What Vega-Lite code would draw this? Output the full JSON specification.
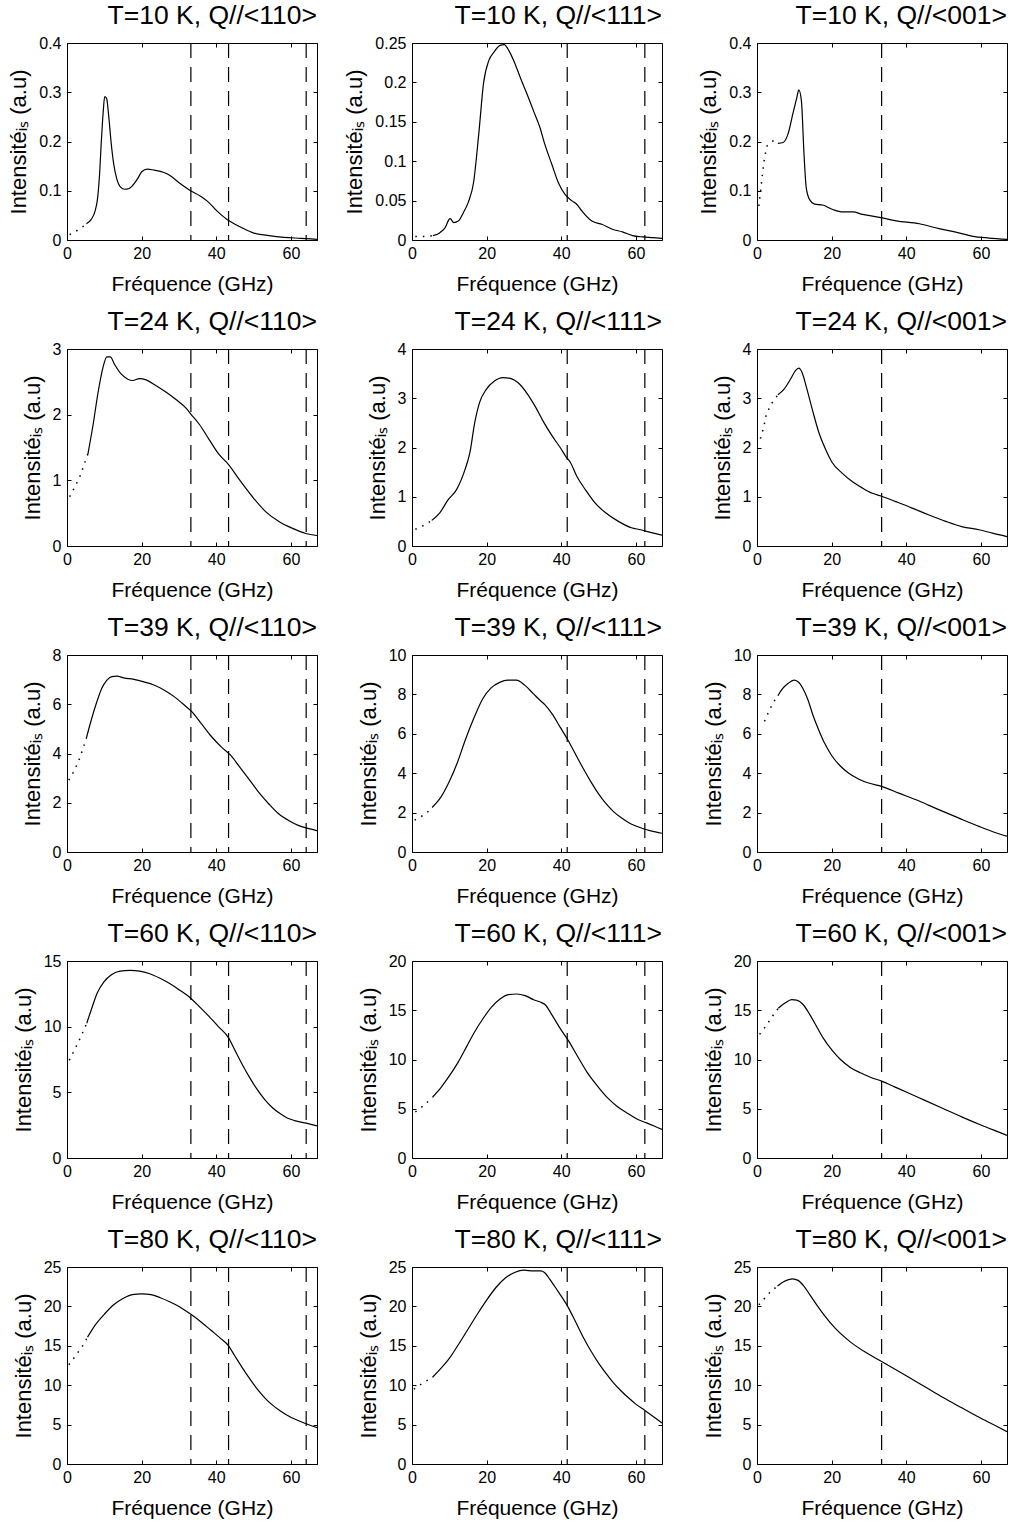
{
"$schema": "https://vega.github.io/schema/vega-lite/v6.json",
"background": "white",
"padding": {"left": 7, "top": 2, "right": 0, "bottom": 0},
"data": {"values": [
{"panel":"T10-110","part":"dot","freq":0.7,"intensity":0.011},{"panel":"T10-110","part":"dot","freq":3.6,"intensity":0.023},{"panel":"T10-110","part":"dot","freq":5.2,"intensity":0.033},
{"panel":"T10-110","part":"solid","freq":5.2,"intensity":0.033},{"panel":"T10-110","part":"solid","freq":6.5,"intensity":0.042},{"panel":"T10-110","part":"solid","freq":7.5,"intensity":0.058},{"panel":"T10-110","part":"solid","freq":8.2,"intensity":0.085},{"panel":"T10-110","part":"solid","freq":8.7,"intensity":0.13},{"panel":"T10-110","part":"solid","freq":9.2,"intensity":0.2},{"panel":"T10-110","part":"solid","freq":9.7,"intensity":0.26},{"panel":"T10-110","part":"solid","freq":10.1,"intensity":0.291},{"panel":"T10-110","part":"solid","freq":10.6,"intensity":0.288},{"panel":"T10-110","part":"solid","freq":11.2,"intensity":0.25},{"panel":"T10-110","part":"solid","freq":11.8,"intensity":0.2},{"panel":"T10-110","part":"solid","freq":12.5,"intensity":0.155},{"panel":"T10-110","part":"solid","freq":13.3,"intensity":0.125},{"panel":"T10-110","part":"solid","freq":14.3,"intensity":0.108},{"panel":"T10-110","part":"solid","freq":15.5,"intensity":0.103},{"panel":"T10-110","part":"solid","freq":16.5,"intensity":0.104},{"panel":"T10-110","part":"solid","freq":17.5,"intensity":0.11},{"panel":"T10-110","part":"solid","freq":18.8,"intensity":0.123},{"panel":"T10-110","part":"solid","freq":20.1,"intensity":0.139},{"panel":"T10-110","part":"solid","freq":21.5,"intensity":0.144},{"panel":"T10-110","part":"solid","freq":23.3,"intensity":0.142},{"panel":"T10-110","part":"solid","freq":26.0,"intensity":0.137},{"panel":"T10-110","part":"solid","freq":27.8,"intensity":0.13},{"panel":"T10-110","part":"solid","freq":30.4,"intensity":0.114},{"panel":"T10-110","part":"solid","freq":33.1,"intensity":0.1},{"panel":"T10-110","part":"solid","freq":35.8,"intensity":0.089},{"panel":"T10-110","part":"solid","freq":37.6,"intensity":0.079},{"panel":"T10-110","part":"solid","freq":40.3,"intensity":0.058},{"panel":"T10-110","part":"solid","freq":43.0,"intensity":0.041},{"panel":"T10-110","part":"solid","freq":46.6,"intensity":0.026},{"panel":"T10-110","part":"solid","freq":50.1,"intensity":0.014},{"panel":"T10-110","part":"solid","freq":53.7,"intensity":0.0095},{"panel":"T10-110","part":"solid","freq":58.2,"intensity":0.0054},{"panel":"T10-110","part":"solid","freq":62.7,"intensity":0.0034},{"panel":"T10-110","part":"solid","freq":67,"intensity":0.0014},
{"panel":"T10-110","part":"mode","freq":33.2},{"panel":"T10-110","part":"mode","freq":43.3},{"panel":"T10-110","part":"mode","freq":64.1},

{"panel":"T10-111","part":"dot","freq":0.9,"intensity":0.0043},{"panel":"T10-111","part":"dot","freq":4.3,"intensity":0.0047},{"panel":"T10-111","part":"dot","freq":5.6,"intensity":0.0056},
{"panel":"T10-111","part":"solid","freq":5.6,"intensity":0.0056},{"panel":"T10-111","part":"solid","freq":7.4,"intensity":0.009},{"panel":"T10-111","part":"solid","freq":8.8,"intensity":0.015},{"panel":"T10-111","part":"solid","freq":10.2,"intensity":0.027},{"panel":"T10-111","part":"solid","freq":11.2,"intensity":0.022},{"panel":"T10-111","part":"solid","freq":12.4,"intensity":0.024},{"panel":"T10-111","part":"solid","freq":13.8,"intensity":0.035},{"panel":"T10-111","part":"solid","freq":15.1,"intensity":0.048},{"panel":"T10-111","part":"solid","freq":16.5,"intensity":0.073},{"panel":"T10-111","part":"solid","freq":17.9,"intensity":0.135},{"panel":"T10-111","part":"solid","freq":19.2,"intensity":0.2},{"panel":"T10-111","part":"solid","freq":20.6,"intensity":0.228},{"panel":"T10-111","part":"solid","freq":21.9,"intensity":0.238},{"panel":"T10-111","part":"solid","freq":23.6,"intensity":0.247},{"panel":"T10-111","part":"solid","freq":24.7,"intensity":0.248},{"panel":"T10-111","part":"solid","freq":26.0,"intensity":0.24},{"panel":"T10-111","part":"solid","freq":27.4,"intensity":0.226},{"panel":"T10-111","part":"solid","freq":29.2,"intensity":0.204},{"panel":"T10-111","part":"solid","freq":31.0,"intensity":0.183},{"panel":"T10-111","part":"solid","freq":32.8,"intensity":0.161},{"panel":"T10-111","part":"solid","freq":34.2,"intensity":0.144},{"panel":"T10-111","part":"solid","freq":35.5,"intensity":0.123},{"panel":"T10-111","part":"solid","freq":37.4,"intensity":0.097},{"panel":"T10-111","part":"solid","freq":39.2,"intensity":0.073},{"panel":"T10-111","part":"solid","freq":41.0,"intensity":0.058},{"panel":"T10-111","part":"solid","freq":42.8,"intensity":0.05},{"panel":"T10-111","part":"solid","freq":44.2,"intensity":0.045},{"panel":"T10-111","part":"solid","freq":45.5,"intensity":0.037},{"panel":"T10-111","part":"solid","freq":48.2,"intensity":0.024},{"panel":"T10-111","part":"solid","freq":51.0,"intensity":0.0197},{"panel":"T10-111","part":"solid","freq":53.7,"intensity":0.0137},{"panel":"T10-111","part":"solid","freq":56.4,"intensity":0.0103},{"panel":"T10-111","part":"solid","freq":59.1,"intensity":0.0056},{"panel":"T10-111","part":"solid","freq":61.8,"intensity":0.0039},{"panel":"T10-111","part":"solid","freq":64.6,"intensity":0.003},{"panel":"T10-111","part":"solid","freq":67,"intensity":0.002},
{"panel":"T10-111","part":"mode","freq":41.6},{"panel":"T10-111","part":"mode","freq":62.4},

{"panel":"T10-001","part":"dot","freq":0.5,"intensity":0.069},{"panel":"T10-001","part":"dot","freq":1.2,"intensity":0.116},{"panel":"T10-001","part":"dot","freq":2.0,"intensity":0.167},{"panel":"T10-001","part":"dot","freq":2.7,"intensity":0.191},{"panel":"T10-001","part":"dot","freq":4.3,"intensity":0.201},{"panel":"T10-001","part":"dot","freq":5.6,"intensity":0.196},
{"panel":"T10-001","part":"solid","freq":5.6,"intensity":0.196},{"panel":"T10-001","part":"solid","freq":7.0,"intensity":0.198},{"panel":"T10-001","part":"solid","freq":8.3,"intensity":0.215},{"panel":"T10-001","part":"solid","freq":9.6,"intensity":0.256},{"panel":"T10-001","part":"solid","freq":10.7,"intensity":0.29},{"panel":"T10-001","part":"solid","freq":11.2,"intensity":0.305},{"panel":"T10-001","part":"solid","freq":11.9,"intensity":0.283},{"panel":"T10-001","part":"solid","freq":12.6,"intensity":0.174},{"panel":"T10-001","part":"solid","freq":13.2,"intensity":0.106},{"panel":"T10-001","part":"solid","freq":14.1,"intensity":0.082},{"panel":"T10-001","part":"solid","freq":15.4,"intensity":0.073},{"panel":"T10-001","part":"solid","freq":17.6,"intensity":0.071},{"panel":"T10-001","part":"solid","freq":20.3,"intensity":0.062},{"panel":"T10-001","part":"solid","freq":23.0,"intensity":0.057},{"panel":"T10-001","part":"solid","freq":25.7,"intensity":0.057},{"panel":"T10-001","part":"solid","freq":28.3,"intensity":0.052},{"panel":"T10-001","part":"solid","freq":32.8,"intensity":0.046},{"panel":"T10-001","part":"solid","freq":37.3,"intensity":0.039},{"panel":"T10-001","part":"solid","freq":43.5,"intensity":0.033},{"panel":"T10-001","part":"solid","freq":48.8,"intensity":0.023},{"panel":"T10-001","part":"solid","freq":53.3,"intensity":0.016},{"panel":"T10-001","part":"solid","freq":57.8,"intensity":0.0075},{"panel":"T10-001","part":"solid","freq":62.2,"intensity":0.004},{"panel":"T10-001","part":"solid","freq":67,"intensity":0.0014},
{"panel":"T10-001","part":"mode","freq":33.4},

{"panel":"T24-110","part":"dot","freq":0.7,"intensity":0.75},{"panel":"T24-110","part":"dot","freq":2.3,"intensity":0.92},{"panel":"T24-110","part":"dot","freq":3.6,"intensity":1.08},{"panel":"T24-110","part":"dot","freq":4.7,"intensity":1.26},{"panel":"T24-110","part":"dot","freq":5.6,"intensity":1.4},
{"panel":"T24-110","part":"solid","freq":5.6,"intensity":1.4},{"panel":"T24-110","part":"solid","freq":7.0,"intensity":1.85},{"panel":"T24-110","part":"solid","freq":8.3,"intensity":2.33},{"panel":"T24-110","part":"solid","freq":9.6,"intensity":2.71},{"panel":"T24-110","part":"solid","freq":10.7,"intensity":2.88},{"panel":"T24-110","part":"solid","freq":11.6,"intensity":2.88},{"panel":"T24-110","part":"solid","freq":12.8,"intensity":2.76},{"panel":"T24-110","part":"solid","freq":14.5,"intensity":2.62},{"panel":"T24-110","part":"solid","freq":16.3,"intensity":2.54},{"panel":"T24-110","part":"solid","freq":17.6,"intensity":2.52},{"panel":"T24-110","part":"solid","freq":19.4,"intensity":2.55},{"panel":"T24-110","part":"solid","freq":21.2,"intensity":2.53},{"panel":"T24-110","part":"solid","freq":23.9,"intensity":2.44},{"panel":"T24-110","part":"solid","freq":26.6,"intensity":2.34},{"panel":"T24-110","part":"solid","freq":29.2,"intensity":2.23},{"panel":"T24-110","part":"solid","freq":31.9,"intensity":2.1},{"panel":"T24-110","part":"solid","freq":33.2,"intensity":2.01},{"panel":"T24-110","part":"solid","freq":35.5,"intensity":1.85},{"panel":"T24-110","part":"solid","freq":38.1,"intensity":1.62},{"panel":"T24-110","part":"solid","freq":40.8,"intensity":1.39},{"panel":"T24-110","part":"solid","freq":43.3,"intensity":1.24},{"panel":"T24-110","part":"solid","freq":46.2,"intensity":1.01},{"panel":"T24-110","part":"solid","freq":49.7,"intensity":0.75},{"panel":"T24-110","part":"solid","freq":53.3,"intensity":0.52},{"panel":"T24-110","part":"solid","freq":56.9,"intensity":0.37},{"panel":"T24-110","part":"solid","freq":60.4,"intensity":0.27},{"panel":"T24-110","part":"solid","freq":64.0,"intensity":0.19},{"panel":"T24-110","part":"solid","freq":67,"intensity":0.16},
{"panel":"T24-110","part":"mode","freq":33.2},{"panel":"T24-110","part":"mode","freq":43.3},{"panel":"T24-110","part":"mode","freq":64.1},

{"panel":"T24-111","part":"dot","freq":0.9,"intensity":0.34},{"panel":"T24-111","part":"dot","freq":3.5,"intensity":0.43},{"panel":"T24-111","part":"dot","freq":5.3,"intensity":0.52},
{"panel":"T24-111","part":"solid","freq":5.3,"intensity":0.52},{"panel":"T24-111","part":"solid","freq":7.5,"intensity":0.68},{"panel":"T24-111","part":"solid","freq":9.7,"intensity":0.94},{"panel":"T24-111","part":"solid","freq":11.9,"intensity":1.14},{"panel":"T24-111","part":"solid","freq":14.2,"intensity":1.55},{"panel":"T24-111","part":"solid","freq":15.5,"intensity":1.89},{"panel":"T24-111","part":"solid","freq":16.8,"intensity":2.5},{"panel":"T24-111","part":"solid","freq":18.1,"intensity":2.91},{"panel":"T24-111","part":"solid","freq":19.9,"intensity":3.18},{"panel":"T24-111","part":"solid","freq":22.1,"intensity":3.35},{"panel":"T24-111","part":"solid","freq":24.3,"intensity":3.42},{"panel":"T24-111","part":"solid","freq":26.5,"intensity":3.4},{"panel":"T24-111","part":"solid","freq":28.8,"intensity":3.29},{"panel":"T24-111","part":"solid","freq":31.0,"intensity":3.08},{"panel":"T24-111","part":"solid","freq":33.2,"intensity":2.81},{"panel":"T24-111","part":"solid","freq":35.4,"intensity":2.5},{"panel":"T24-111","part":"solid","freq":37.6,"intensity":2.23},{"panel":"T24-111","part":"solid","freq":39.8,"intensity":1.99},{"panel":"T24-111","part":"solid","freq":41.2,"intensity":1.82},{"panel":"T24-111","part":"solid","freq":42.5,"intensity":1.69},{"panel":"T24-111","part":"solid","freq":44.2,"intensity":1.41},{"panel":"T24-111","part":"solid","freq":46.5,"intensity":1.14},{"panel":"T24-111","part":"solid","freq":49.1,"intensity":0.87},{"panel":"T24-111","part":"solid","freq":51.8,"intensity":0.68},{"panel":"T24-111","part":"solid","freq":55.3,"intensity":0.5},{"panel":"T24-111","part":"solid","freq":58.8,"intensity":0.37},{"panel":"T24-111","part":"solid","freq":61.3,"intensity":0.33},{"panel":"T24-111","part":"solid","freq":64.2,"intensity":0.27},{"panel":"T24-111","part":"solid","freq":67,"intensity":0.22},
{"panel":"T24-111","part":"mode","freq":41.6},{"panel":"T24-111","part":"mode","freq":62.4},

{"panel":"T24-001","part":"dot","freq":0.9,"intensity":2.18},{"panel":"T24-001","part":"dot","freq":1.8,"intensity":2.41},{"panel":"T24-001","part":"dot","freq":2.4,"intensity":2.64},{"panel":"T24-001","part":"dot","freq":3.6,"intensity":2.86},{"panel":"T24-001","part":"dot","freq":5.6,"intensity":3.07},
{"panel":"T24-001","part":"solid","freq":5.6,"intensity":3.07},{"panel":"T24-001","part":"solid","freq":7.2,"intensity":3.18},{"panel":"T24-001","part":"solid","freq":9.0,"intensity":3.39},{"panel":"T24-001","part":"solid","freq":10.3,"intensity":3.56},{"panel":"T24-001","part":"solid","freq":11.2,"intensity":3.61},{"panel":"T24-001","part":"solid","freq":12.1,"intensity":3.52},{"panel":"T24-001","part":"solid","freq":13.4,"intensity":3.18},{"panel":"T24-001","part":"solid","freq":14.8,"intensity":2.78},{"panel":"T24-001","part":"solid","freq":16.6,"intensity":2.3},{"panel":"T24-001","part":"solid","freq":18.4,"intensity":1.96},{"panel":"T24-001","part":"solid","freq":20.1,"intensity":1.7},{"panel":"T24-001","part":"solid","freq":22.8,"intensity":1.48},{"panel":"T24-001","part":"solid","freq":25.5,"intensity":1.31},{"panel":"T24-001","part":"solid","freq":28.2,"intensity":1.18},{"panel":"T24-001","part":"solid","freq":30.9,"intensity":1.07},{"panel":"T24-001","part":"solid","freq":33.4,"intensity":1.01},{"panel":"T24-001","part":"solid","freq":37.2,"intensity":0.9},{"panel":"T24-001","part":"solid","freq":41.6,"intensity":0.77},{"panel":"T24-001","part":"solid","freq":46.1,"intensity":0.63},{"panel":"T24-001","part":"solid","freq":50.6,"intensity":0.5},{"panel":"T24-001","part":"solid","freq":55.1,"intensity":0.39},{"panel":"T24-001","part":"solid","freq":59.5,"intensity":0.33},{"panel":"T24-001","part":"solid","freq":63.1,"intensity":0.26},{"panel":"T24-001","part":"solid","freq":67,"intensity":0.19},
{"panel":"T24-001","part":"mode","freq":33.4},

{"panel":"T39-110","part":"dot","freq":0.5,"intensity":2.92},{"panel":"T39-110","part":"dot","freq":2.1,"intensity":3.35},{"panel":"T39-110","part":"dot","freq":3.4,"intensity":3.81},{"panel":"T39-110","part":"dot","freq":4.5,"intensity":4.3},{"panel":"T39-110","part":"dot","freq":5.2,"intensity":4.63},
{"panel":"T39-110","part":"solid","freq":5.2,"intensity":4.63},{"panel":"T39-110","part":"solid","freq":6.6,"intensity":5.41},{"panel":"T39-110","part":"solid","freq":8.0,"intensity":6.1},{"panel":"T39-110","part":"solid","freq":9.3,"intensity":6.64},{"panel":"T39-110","part":"solid","freq":10.7,"intensity":6.98},{"panel":"T39-110","part":"solid","freq":12.0,"intensity":7.12},{"panel":"T39-110","part":"solid","freq":13.4,"intensity":7.14},{"panel":"T39-110","part":"solid","freq":15.2,"intensity":7.07},{"panel":"T39-110","part":"solid","freq":17.9,"intensity":7.01},{"panel":"T39-110","part":"solid","freq":20.6,"intensity":6.91},{"panel":"T39-110","part":"solid","freq":23.3,"intensity":6.78},{"panel":"T39-110","part":"solid","freq":26.1,"intensity":6.57},{"panel":"T39-110","part":"solid","freq":28.8,"intensity":6.3},{"panel":"T39-110","part":"solid","freq":31.5,"intensity":5.96},{"panel":"T39-110","part":"solid","freq":33.5,"intensity":5.69},{"panel":"T39-110","part":"solid","freq":36.0,"intensity":5.21},{"panel":"T39-110","part":"solid","freq":38.7,"intensity":4.69},{"panel":"T39-110","part":"solid","freq":41.4,"intensity":4.26},{"panel":"T39-110","part":"solid","freq":43.9,"intensity":3.92},{"panel":"T39-110","part":"solid","freq":46.0,"intensity":3.51},{"panel":"T39-110","part":"solid","freq":48.7,"intensity":2.97},{"panel":"T39-110","part":"solid","freq":51.4,"intensity":2.42},{"panel":"T39-110","part":"solid","freq":54.1,"intensity":1.95},{"panel":"T39-110","part":"solid","freq":56.8,"intensity":1.54},{"panel":"T39-110","part":"solid","freq":59.5,"intensity":1.27},{"panel":"T39-110","part":"solid","freq":62.3,"intensity":1.06},{"panel":"T39-110","part":"solid","freq":64.8,"intensity":0.95},{"panel":"T39-110","part":"solid","freq":67,"intensity":0.87},
{"panel":"T39-110","part":"mode","freq":33.2},{"panel":"T39-110","part":"mode","freq":43.3},{"panel":"T39-110","part":"mode","freq":64.1},

{"panel":"T39-111","part":"dot","freq":0.7,"intensity":1.62},{"panel":"T39-111","part":"dot","freq":3.6,"intensity":1.92},{"panel":"T39-111","part":"dot","freq":5.4,"intensity":2.26},
{"panel":"T39-111","part":"solid","freq":5.4,"intensity":2.26},{"panel":"T39-111","part":"solid","freq":7.7,"intensity":2.77},{"panel":"T39-111","part":"solid","freq":9.9,"intensity":3.54},{"panel":"T39-111","part":"solid","freq":12.2,"intensity":4.56},{"panel":"T39-111","part":"solid","freq":14.4,"intensity":5.75},{"panel":"T39-111","part":"solid","freq":16.7,"intensity":6.85},{"panel":"T39-111","part":"solid","freq":19.0,"intensity":7.79},{"panel":"T39-111","part":"solid","freq":21.2,"intensity":8.33},{"panel":"T39-111","part":"solid","freq":23.5,"intensity":8.61},{"panel":"T39-111","part":"solid","freq":25.7,"intensity":8.72},{"panel":"T39-111","part":"solid","freq":28.0,"intensity":8.72},{"panel":"T39-111","part":"solid","freq":30.2,"intensity":8.47},{"panel":"T39-111","part":"solid","freq":32.5,"intensity":8.04},{"panel":"T39-111","part":"solid","freq":34.3,"intensity":7.7},{"panel":"T39-111","part":"solid","freq":35.6,"intensity":7.48},{"panel":"T39-111","part":"solid","freq":37.5,"intensity":7.02},{"panel":"T39-111","part":"solid","freq":39.7,"intensity":6.34},{"panel":"T39-111","part":"solid","freq":41.7,"intensity":5.71},{"panel":"T39-111","part":"solid","freq":44,"intensity":4.9},{"panel":"T39-111","part":"solid","freq":46,"intensity":4.2},{"panel":"T39-111","part":"solid","freq":48,"intensity":3.55},{"panel":"T39-111","part":"solid","freq":50,"intensity":2.95},{"panel":"T39-111","part":"solid","freq":52,"intensity":2.45},{"panel":"T39-111","part":"solid","freq":54,"intensity":2.05},{"panel":"T39-111","part":"solid","freq":56,"intensity":1.75},{"panel":"T39-111","part":"solid","freq":58,"intensity":1.5},{"panel":"T39-111","part":"solid","freq":60,"intensity":1.32},{"panel":"T39-111","part":"solid","freq":62,"intensity":1.18},{"panel":"T39-111","part":"solid","freq":64,"intensity":1.07},{"panel":"T39-111","part":"solid","freq":67,"intensity":0.95},
{"panel":"T39-111","part":"mode","freq":41.6},{"panel":"T39-111","part":"mode","freq":62.4},

{"panel":"T39-001","part":"dot","freq":2.0,"intensity":6.63},{"panel":"T39-001","part":"dot","freq":3.3,"intensity":7.19},{"panel":"T39-001","part":"dot","freq":4.9,"intensity":7.76},{"panel":"T39-001","part":"dot","freq":5.6,"intensity":7.93},
{"panel":"T39-001","part":"solid","freq":5.6,"intensity":7.93},{"panel":"T39-001","part":"solid","freq":6.9,"intensity":8.3},{"panel":"T39-001","part":"solid","freq":8.3,"intensity":8.55},{"panel":"T39-001","part":"solid","freq":9.9,"intensity":8.72},{"panel":"T39-001","part":"solid","freq":11.0,"intensity":8.64},{"panel":"T39-001","part":"solid","freq":12.3,"intensity":8.3},{"panel":"T39-001","part":"solid","freq":13.7,"intensity":7.7},{"panel":"T39-001","part":"solid","freq":15.0,"intensity":6.94},{"panel":"T39-001","part":"solid","freq":16.4,"intensity":6.26},{"panel":"T39-001","part":"solid","freq":18.2,"intensity":5.49},{"panel":"T39-001","part":"solid","freq":20.0,"intensity":4.9},{"panel":"T39-001","part":"solid","freq":22.2,"intensity":4.39},{"panel":"T39-001","part":"solid","freq":24.5,"intensity":4.01},{"panel":"T39-001","part":"solid","freq":27.2,"intensity":3.71},{"panel":"T39-001","part":"solid","freq":29.9,"intensity":3.5},{"panel":"T39-001","part":"solid","freq":33.4,"intensity":3.33},{"panel":"T39-001","part":"solid","freq":38.0,"intensity":2.99},{"panel":"T39-001","part":"solid","freq":43.3,"intensity":2.6},{"panel":"T39-001","part":"solid","freq":48.7,"intensity":2.15},{"panel":"T39-001","part":"solid","freq":54.1,"intensity":1.72},{"panel":"T39-001","part":"solid","freq":59.5,"intensity":1.3},{"panel":"T39-001","part":"solid","freq":64.0,"intensity":0.98},{"panel":"T39-001","part":"solid","freq":67,"intensity":0.8},
{"panel":"T39-001","part":"mode","freq":33.4},

{"panel":"T60-110","part":"dot","freq":0.6,"intensity":7.44},{"panel":"T60-110","part":"dot","freq":2.1,"intensity":8.28},{"panel":"T60-110","part":"dot","freq":3.5,"intensity":9.1},{"panel":"T60-110","part":"dot","freq":5.3,"intensity":10.26},
{"panel":"T60-110","part":"solid","freq":5.3,"intensity":10.26},{"panel":"T60-110","part":"solid","freq":6.8,"intensity":11.54},{"panel":"T60-110","part":"solid","freq":8.1,"intensity":12.56},{"panel":"T60-110","part":"solid","freq":9.9,"intensity":13.41},{"panel":"T60-110","part":"solid","freq":12.0,"intensity":13.97},{"panel":"T60-110","part":"solid","freq":14.2,"intensity":14.23},{"panel":"T60-110","part":"solid","freq":16.9,"intensity":14.28},{"panel":"T60-110","part":"solid","freq":19.5,"intensity":14.23},{"panel":"T60-110","part":"solid","freq":22.2,"intensity":14.03},{"panel":"T60-110","part":"solid","freq":24.8,"intensity":13.7},{"panel":"T60-110","part":"solid","freq":27.4,"intensity":13.3},{"panel":"T60-110","part":"solid","freq":30.1,"intensity":12.8},{"panel":"T60-110","part":"solid","freq":33.2,"intensity":12.15},{"panel":"T60-110","part":"solid","freq":35.4,"intensity":11.55},{"panel":"T60-110","part":"solid","freq":38.0,"intensity":10.8},{"panel":"T60-110","part":"solid","freq":40.6,"intensity":10.0},{"panel":"T60-110","part":"solid","freq":43.3,"intensity":9.15},{"panel":"T60-110","part":"solid","freq":45,"intensity":8.2},{"panel":"T60-110","part":"solid","freq":47,"intensity":7.1},{"panel":"T60-110","part":"solid","freq":49,"intensity":6.1},{"panel":"T60-110","part":"solid","freq":51,"intensity":5.2},{"panel":"T60-110","part":"solid","freq":53,"intensity":4.45},{"panel":"T60-110","part":"solid","freq":55,"intensity":3.85},{"panel":"T60-110","part":"solid","freq":57,"intensity":3.4},{"panel":"T60-110","part":"solid","freq":59,"intensity":3.05},{"panel":"T60-110","part":"solid","freq":61,"intensity":2.85},{"panel":"T60-110","part":"solid","freq":64.1,"intensity":2.65},{"panel":"T60-110","part":"solid","freq":67,"intensity":2.45},
{"panel":"T60-110","part":"mode","freq":33.2},{"panel":"T60-110","part":"mode","freq":43.3},{"panel":"T60-110","part":"mode","freq":64.1},

{"panel":"T60-111","part":"dot","freq":0.9,"intensity":4.68},{"panel":"T60-111","part":"dot","freq":3.3,"intensity":5.37},{"panel":"T60-111","part":"dot","freq":5.6,"intensity":6.22},
{"panel":"T60-111","part":"solid","freq":5.6,"intensity":6.22},{"panel":"T60-111","part":"solid","freq":7.8,"intensity":7.18},{"panel":"T60-111","part":"solid","freq":10.1,"intensity":8.38},{"panel":"T60-111","part":"solid","freq":12.3,"intensity":9.68},{"panel":"T60-111","part":"solid","freq":14.6,"intensity":11.28},{"panel":"T60-111","part":"solid","freq":16.8,"intensity":12.82},{"panel":"T60-111","part":"solid","freq":19.1,"intensity":14.19},{"panel":"T60-111","part":"solid","freq":21.3,"intensity":15.32},{"panel":"T60-111","part":"solid","freq":23.6,"intensity":16.14},{"panel":"T60-111","part":"solid","freq":25.8,"intensity":16.58},{"panel":"T60-111","part":"solid","freq":28.1,"intensity":16.65},{"panel":"T60-111","part":"solid","freq":30.3,"intensity":16.48},{"panel":"T60-111","part":"solid","freq":32.6,"intensity":16.07},{"panel":"T60-111","part":"solid","freq":34.4,"intensity":15.83},{"panel":"T60-111","part":"solid","freq":35.7,"intensity":15.56},{"panel":"T60-111","part":"solid","freq":37.5,"intensity":14.53},{"panel":"T60-111","part":"solid","freq":39.7,"intensity":13.16},{"panel":"T60-111","part":"solid","freq":42.0,"intensity":11.86},{"panel":"T60-111","part":"solid","freq":44.2,"intensity":10.43},{"panel":"T60-111","part":"solid","freq":46.9,"intensity":8.72},{"panel":"T60-111","part":"solid","freq":49.6,"intensity":7.35},{"panel":"T60-111","part":"solid","freq":52.3,"intensity":6.15},{"panel":"T60-111","part":"solid","freq":55.0,"intensity":5.23},{"panel":"T60-111","part":"solid","freq":57.7,"intensity":4.55},{"panel":"T60-111","part":"solid","freq":60.4,"intensity":3.93},{"panel":"T60-111","part":"solid","freq":62.7,"intensity":3.59},{"panel":"T60-111","part":"solid","freq":64.9,"intensity":3.25},{"panel":"T60-111","part":"solid","freq":67,"intensity":2.9},
{"panel":"T60-111","part":"mode","freq":41.6},{"panel":"T60-111","part":"mode","freq":62.4},

{"panel":"T60-001","part":"dot","freq":0.7,"intensity":12.55},{"panel":"T60-001","part":"dot","freq":2.7,"intensity":13.57},{"panel":"T60-001","part":"dot","freq":4.5,"intensity":14.6},{"panel":"T60-001","part":"dot","freq":5.7,"intensity":15.2},
{"panel":"T60-001","part":"solid","freq":5.7,"intensity":15.2},{"panel":"T60-001","part":"solid","freq":7.5,"intensity":15.73},{"panel":"T60-001","part":"solid","freq":9.3,"intensity":16.07},{"panel":"T60-001","part":"solid","freq":10.6,"intensity":16.03},{"panel":"T60-001","part":"solid","freq":12.4,"intensity":15.56},{"panel":"T60-001","part":"solid","freq":14.2,"intensity":14.53},{"panel":"T60-001","part":"solid","freq":16.0,"intensity":13.33},{"panel":"T60-001","part":"solid","freq":17.8,"intensity":12.14},{"panel":"T60-001","part":"solid","freq":20.1,"intensity":10.94},{"panel":"T60-001","part":"solid","freq":22.3,"intensity":10.02},{"panel":"T60-001","part":"solid","freq":25.0,"intensity":9.2},{"panel":"T60-001","part":"solid","freq":27.7,"intensity":8.65},{"panel":"T60-001","part":"solid","freq":30.4,"intensity":8.2},{"panel":"T60-001","part":"solid","freq":33.4,"intensity":7.8},{"panel":"T60-001","part":"solid","freq":37,"intensity":7.2},{"panel":"T60-001","part":"solid","freq":40,"intensity":6.7},{"panel":"T60-001","part":"solid","freq":45,"intensity":5.85},{"panel":"T60-001","part":"solid","freq":50,"intensity":5.0},{"panel":"T60-001","part":"solid","freq":55,"intensity":4.15},{"panel":"T60-001","part":"solid","freq":60,"intensity":3.35},{"panel":"T60-001","part":"solid","freq":65,"intensity":2.6},{"panel":"T60-001","part":"solid","freq":67,"intensity":2.3},
{"panel":"T60-001","part":"mode","freq":33.4},

{"panel":"T80-110","part":"dot","freq":0.5,"intensity":12.6},{"panel":"T80-110","part":"dot","freq":2.4,"intensity":13.8},{"panel":"T80-110","part":"dot","freq":4.2,"intensity":15.0},{"panel":"T80-110","part":"dot","freq":5.5,"intensity":16.1},
{"panel":"T80-110","part":"solid","freq":5.5,"intensity":16.1},{"panel":"T80-110","part":"solid","freq":7.5,"intensity":17.6},{"panel":"T80-110","part":"solid","freq":10,"intensity":19.0},{"panel":"T80-110","part":"solid","freq":12.5,"intensity":20.2},{"panel":"T80-110","part":"solid","freq":15,"intensity":21.0},{"panel":"T80-110","part":"solid","freq":17.5,"intensity":21.5},{"panel":"T80-110","part":"solid","freq":20,"intensity":21.6},{"panel":"T80-110","part":"solid","freq":22.5,"intensity":21.5},{"panel":"T80-110","part":"solid","freq":25,"intensity":21.1},{"panel":"T80-110","part":"solid","freq":27.5,"intensity":20.6},{"panel":"T80-110","part":"solid","freq":30,"intensity":20.0},{"panel":"T80-110","part":"solid","freq":33.2,"intensity":19.0},{"panel":"T80-110","part":"solid","freq":36,"intensity":18.0},{"panel":"T80-110","part":"solid","freq":38.5,"intensity":17.0},{"panel":"T80-110","part":"solid","freq":41,"intensity":16.0},{"panel":"T80-110","part":"solid","freq":43.3,"intensity":15.0},{"panel":"T80-110","part":"solid","freq":45,"intensity":13.7},{"panel":"T80-110","part":"solid","freq":47,"intensity":12.2},{"panel":"T80-110","part":"solid","freq":49,"intensity":10.8},{"panel":"T80-110","part":"solid","freq":51,"intensity":9.5},{"panel":"T80-110","part":"solid","freq":53,"intensity":8.4},{"panel":"T80-110","part":"solid","freq":55,"intensity":7.5},{"panel":"T80-110","part":"solid","freq":57,"intensity":6.8},{"panel":"T80-110","part":"solid","freq":59,"intensity":6.2},{"panel":"T80-110","part":"solid","freq":61,"intensity":5.7},{"panel":"T80-110","part":"solid","freq":64.1,"intensity":5.1},{"panel":"T80-110","part":"solid","freq":67,"intensity":4.6},
{"panel":"T80-110","part":"mode","freq":33.2},{"panel":"T80-110","part":"mode","freq":43.3},{"panel":"T80-110","part":"mode","freq":64.1},

{"panel":"T80-111","part":"dot","freq":0.5,"intensity":9.5},{"panel":"T80-111","part":"dot","freq":3.0,"intensity":10.3},{"panel":"T80-111","part":"dot","freq":5.5,"intensity":11.0},
{"panel":"T80-111","part":"solid","freq":5.5,"intensity":11.0},{"panel":"T80-111","part":"solid","freq":7.5,"intensity":12.0},{"panel":"T80-111","part":"solid","freq":10,"intensity":13.4},{"panel":"T80-111","part":"solid","freq":12.5,"intensity":15.2},{"panel":"T80-111","part":"solid","freq":15,"intensity":17.1},{"panel":"T80-111","part":"solid","freq":17.5,"intensity":19.0},{"panel":"T80-111","part":"solid","freq":20,"intensity":20.8},{"panel":"T80-111","part":"solid","freq":22.5,"intensity":22.4},{"panel":"T80-111","part":"solid","freq":25,"intensity":23.6},{"panel":"T80-111","part":"solid","freq":27.5,"intensity":24.3},{"panel":"T80-111","part":"solid","freq":30,"intensity":24.6},{"panel":"T80-111","part":"solid","freq":32.5,"intensity":24.5},{"panel":"T80-111","part":"solid","freq":34.5,"intensity":24.5},{"panel":"T80-111","part":"solid","freq":35.5,"intensity":24.3},{"panel":"T80-111","part":"solid","freq":37,"intensity":23.4},{"panel":"T80-111","part":"solid","freq":39,"intensity":22.0},{"panel":"T80-111","part":"solid","freq":41.6,"intensity":20.1},{"panel":"T80-111","part":"solid","freq":44,"intensity":17.9},{"panel":"T80-111","part":"solid","freq":46,"intensity":16.0},{"panel":"T80-111","part":"solid","freq":48,"intensity":14.3},{"panel":"T80-111","part":"solid","freq":50,"intensity":12.8},{"panel":"T80-111","part":"solid","freq":52,"intensity":11.5},{"panel":"T80-111","part":"solid","freq":54,"intensity":10.3},{"panel":"T80-111","part":"solid","freq":56,"intensity":9.3},{"panel":"T80-111","part":"solid","freq":58,"intensity":8.4},{"panel":"T80-111","part":"solid","freq":60,"intensity":7.6},{"panel":"T80-111","part":"solid","freq":62.4,"intensity":6.8},{"panel":"T80-111","part":"solid","freq":65,"intensity":5.9},{"panel":"T80-111","part":"solid","freq":67,"intensity":5.2},
{"panel":"T80-111","part":"mode","freq":41.6},{"panel":"T80-111","part":"mode","freq":62.4},

{"panel":"T80-001","part":"dot","freq":0.5,"intensity":20.2},{"panel":"T80-001","part":"dot","freq":2.0,"intensity":21.0},{"panel":"T80-001","part":"dot","freq":3.5,"intensity":21.8},{"panel":"T80-001","part":"dot","freq":5.5,"intensity":22.6},
{"panel":"T80-001","part":"solid","freq":5.5,"intensity":22.6},{"panel":"T80-001","part":"solid","freq":7,"intensity":23.1},{"panel":"T80-001","part":"solid","freq":8.5,"intensity":23.4},{"panel":"T80-001","part":"solid","freq":9.5,"intensity":23.5},{"panel":"T80-001","part":"solid","freq":11,"intensity":23.3},{"panel":"T80-001","part":"solid","freq":12.5,"intensity":22.6},{"panel":"T80-001","part":"solid","freq":14,"intensity":21.6},{"panel":"T80-001","part":"solid","freq":16,"intensity":20.2},{"panel":"T80-001","part":"solid","freq":18,"intensity":18.9},{"panel":"T80-001","part":"solid","freq":21,"intensity":17.2},{"panel":"T80-001","part":"solid","freq":25,"intensity":15.5},{"panel":"T80-001","part":"solid","freq":29,"intensity":14.2},{"panel":"T80-001","part":"solid","freq":33.4,"intensity":13.0},{"panel":"T80-001","part":"solid","freq":40,"intensity":11.2},{"panel":"T80-001","part":"solid","freq":45,"intensity":9.8},{"panel":"T80-001","part":"solid","freq":50,"intensity":8.4},{"panel":"T80-001","part":"solid","freq":55,"intensity":7.1},{"panel":"T80-001","part":"solid","freq":60,"intensity":5.8},{"panel":"T80-001","part":"solid","freq":65,"intensity":4.6},{"panel":"T80-001","part":"solid","freq":67,"intensity":4.1},
{"panel":"T80-001","part":"mode","freq":33.4}
]},
"columns": 3,
"spacing": {"row": 109, "column": 95},
"bounds": "flush",
"concat": [
{"width":250,"height":197,"title":"T=10 K, Q//<110>","transform":[{"filter":{"field":"panel","equal":"T10-110"}}],"resolve":{"axis":{"x":"independent","y":"independent"}},"layer":[
 {"transform":[{"filter":{"field":"part","equal":"solid"}}],"mark":{"type":"line","interpolate":"monotone","clip":true},"encoding":{"x":{"field":"freq","type":"quantitative","scale":{"domain":[0,67],"nice":false},"axis":{"values":[0,20,40,60],"title":"Fréquence (GHz)"}},"y":{"field":"intensity","type":"quantitative","scale":{"domain":[0,0.4],"nice":false},"axis":{"values":[0,0.1,0.2,0.3,0.4],"title":"Intensitéᵢₛ (a.u)"}}}},
 {"transform":[{"filter":{"field":"part","equal":"dot"}}],"mark":{"type":"line","strokeDash":[1.5,6],"strokeWidth":1.5,"clip":true},"encoding":{"x":{"field":"freq","type":"quantitative","scale":{"domain":[0,67],"nice":false},"axis":{"orient":"top","values":[0,20,40,60],"labels":false,"title":null}},"y":{"field":"intensity","type":"quantitative","scale":{"domain":[0,0.4],"nice":false},"axis":{"orient":"right","values":[0,0.1,0.2,0.3,0.4],"labels":false,"title":null}}}},
 {"transform":[{"filter":{"field":"part","equal":"mode"}}],"mark":{"type":"rule","strokeDash":[15,9]},"encoding":{"x":{"field":"freq","type":"quantitative","scale":{"domain":[0,67],"nice":false},"axis":null}}}]},
{"width":250,"height":197,"title":"T=10 K, Q//<111>","transform":[{"filter":{"field":"panel","equal":"T10-111"}}],"resolve":{"axis":{"x":"independent","y":"independent"}},"layer":[
 {"transform":[{"filter":{"field":"part","equal":"solid"}}],"mark":{"type":"line","interpolate":"monotone","clip":true},"encoding":{"x":{"field":"freq","type":"quantitative","scale":{"domain":[0,67],"nice":false},"axis":{"values":[0,20,40,60],"title":"Fréquence (GHz)"}},"y":{"field":"intensity","type":"quantitative","scale":{"domain":[0,0.25],"nice":false},"axis":{"values":[0,0.05,0.1,0.15,0.2,0.25],"title":"Intensitéᵢₛ (a.u)"}}}},
 {"transform":[{"filter":{"field":"part","equal":"dot"}}],"mark":{"type":"line","strokeDash":[1.5,6],"strokeWidth":1.5,"clip":true},"encoding":{"x":{"field":"freq","type":"quantitative","scale":{"domain":[0,67],"nice":false},"axis":{"orient":"top","values":[0,20,40,60],"labels":false,"title":null}},"y":{"field":"intensity","type":"quantitative","scale":{"domain":[0,0.25],"nice":false},"axis":{"orient":"right","values":[0,0.05,0.1,0.15,0.2,0.25],"labels":false,"title":null}}}},
 {"transform":[{"filter":{"field":"part","equal":"mode"}}],"mark":{"type":"rule","strokeDash":[15,9]},"encoding":{"x":{"field":"freq","type":"quantitative","scale":{"domain":[0,67],"nice":false},"axis":null}}}]},
{"width":250,"height":197,"title":"T=10 K, Q//<001>","transform":[{"filter":{"field":"panel","equal":"T10-001"}}],"resolve":{"axis":{"x":"independent","y":"independent"}},"layer":[
 {"transform":[{"filter":{"field":"part","equal":"solid"}}],"mark":{"type":"line","interpolate":"monotone","clip":true},"encoding":{"x":{"field":"freq","type":"quantitative","scale":{"domain":[0,67],"nice":false},"axis":{"values":[0,20,40,60],"title":"Fréquence (GHz)"}},"y":{"field":"intensity","type":"quantitative","scale":{"domain":[0,0.4],"nice":false},"axis":{"values":[0,0.1,0.2,0.3,0.4],"title":"Intensitéᵢₛ (a.u)"}}}},
 {"transform":[{"filter":{"field":"part","equal":"dot"}}],"mark":{"type":"line","strokeDash":[1.5,6],"strokeWidth":1.5,"clip":true},"encoding":{"x":{"field":"freq","type":"quantitative","scale":{"domain":[0,67],"nice":false},"axis":{"orient":"top","values":[0,20,40,60],"labels":false,"title":null}},"y":{"field":"intensity","type":"quantitative","scale":{"domain":[0,0.4],"nice":false},"axis":{"orient":"right","values":[0,0.1,0.2,0.3,0.4],"labels":false,"title":null}}}},
 {"transform":[{"filter":{"field":"part","equal":"mode"}}],"mark":{"type":"rule","strokeDash":[15,9]},"encoding":{"x":{"field":"freq","type":"quantitative","scale":{"domain":[0,67],"nice":false},"axis":null}}}]},
{"width":250,"height":197,"title":"T=24 K, Q//<110>","transform":[{"filter":{"field":"panel","equal":"T24-110"}}],"resolve":{"axis":{"x":"independent","y":"independent"}},"layer":[
 {"transform":[{"filter":{"field":"part","equal":"solid"}}],"mark":{"type":"line","interpolate":"monotone","clip":true},"encoding":{"x":{"field":"freq","type":"quantitative","scale":{"domain":[0,67],"nice":false},"axis":{"values":[0,20,40,60],"title":"Fréquence (GHz)"}},"y":{"field":"intensity","type":"quantitative","scale":{"domain":[0,3],"nice":false},"axis":{"values":[0,1,2,3],"title":"Intensitéᵢₛ (a.u)"}}}},
 {"transform":[{"filter":{"field":"part","equal":"dot"}}],"mark":{"type":"line","strokeDash":[1.5,6],"strokeWidth":1.5,"clip":true},"encoding":{"x":{"field":"freq","type":"quantitative","scale":{"domain":[0,67],"nice":false},"axis":{"orient":"top","values":[0,20,40,60],"labels":false,"title":null}},"y":{"field":"intensity","type":"quantitative","scale":{"domain":[0,3],"nice":false},"axis":{"orient":"right","values":[0,1,2,3],"labels":false,"title":null}}}},
 {"transform":[{"filter":{"field":"part","equal":"mode"}}],"mark":{"type":"rule","strokeDash":[15,9]},"encoding":{"x":{"field":"freq","type":"quantitative","scale":{"domain":[0,67],"nice":false},"axis":null}}}]},
{"width":250,"height":197,"title":"T=24 K, Q//<111>","transform":[{"filter":{"field":"panel","equal":"T24-111"}}],"resolve":{"axis":{"x":"independent","y":"independent"}},"layer":[
 {"transform":[{"filter":{"field":"part","equal":"solid"}}],"mark":{"type":"line","interpolate":"monotone","clip":true},"encoding":{"x":{"field":"freq","type":"quantitative","scale":{"domain":[0,67],"nice":false},"axis":{"values":[0,20,40,60],"title":"Fréquence (GHz)"}},"y":{"field":"intensity","type":"quantitative","scale":{"domain":[0,4],"nice":false},"axis":{"values":[0,1,2,3,4],"title":"Intensitéᵢₛ (a.u)"}}}},
 {"transform":[{"filter":{"field":"part","equal":"dot"}}],"mark":{"type":"line","strokeDash":[1.5,6],"strokeWidth":1.5,"clip":true},"encoding":{"x":{"field":"freq","type":"quantitative","scale":{"domain":[0,67],"nice":false},"axis":{"orient":"top","values":[0,20,40,60],"labels":false,"title":null}},"y":{"field":"intensity","type":"quantitative","scale":{"domain":[0,4],"nice":false},"axis":{"orient":"right","values":[0,1,2,3,4],"labels":false,"title":null}}}},
 {"transform":[{"filter":{"field":"part","equal":"mode"}}],"mark":{"type":"rule","strokeDash":[15,9]},"encoding":{"x":{"field":"freq","type":"quantitative","scale":{"domain":[0,67],"nice":false},"axis":null}}}]},
{"width":250,"height":197,"title":"T=24 K, Q//<001>","transform":[{"filter":{"field":"panel","equal":"T24-001"}}],"resolve":{"axis":{"x":"independent","y":"independent"}},"layer":[
 {"transform":[{"filter":{"field":"part","equal":"solid"}}],"mark":{"type":"line","interpolate":"monotone","clip":true},"encoding":{"x":{"field":"freq","type":"quantitative","scale":{"domain":[0,67],"nice":false},"axis":{"values":[0,20,40,60],"title":"Fréquence (GHz)"}},"y":{"field":"intensity","type":"quantitative","scale":{"domain":[0,4],"nice":false},"axis":{"values":[0,1,2,3,4],"title":"Intensitéᵢₛ (a.u)"}}}},
 {"transform":[{"filter":{"field":"part","equal":"dot"}}],"mark":{"type":"line","strokeDash":[1.5,6],"strokeWidth":1.5,"clip":true},"encoding":{"x":{"field":"freq","type":"quantitative","scale":{"domain":[0,67],"nice":false},"axis":{"orient":"top","values":[0,20,40,60],"labels":false,"title":null}},"y":{"field":"intensity","type":"quantitative","scale":{"domain":[0,4],"nice":false},"axis":{"orient":"right","values":[0,1,2,3,4],"labels":false,"title":null}}}},
 {"transform":[{"filter":{"field":"part","equal":"mode"}}],"mark":{"type":"rule","strokeDash":[15,9]},"encoding":{"x":{"field":"freq","type":"quantitative","scale":{"domain":[0,67],"nice":false},"axis":null}}}]},
{"width":250,"height":197,"title":"T=39 K, Q//<110>","transform":[{"filter":{"field":"panel","equal":"T39-110"}}],"resolve":{"axis":{"x":"independent","y":"independent"}},"layer":[
 {"transform":[{"filter":{"field":"part","equal":"solid"}}],"mark":{"type":"line","interpolate":"monotone","clip":true},"encoding":{"x":{"field":"freq","type":"quantitative","scale":{"domain":[0,67],"nice":false},"axis":{"values":[0,20,40,60],"title":"Fréquence (GHz)"}},"y":{"field":"intensity","type":"quantitative","scale":{"domain":[0,8],"nice":false},"axis":{"values":[0,2,4,6,8],"title":"Intensitéᵢₛ (a.u)"}}}},
 {"transform":[{"filter":{"field":"part","equal":"dot"}}],"mark":{"type":"line","strokeDash":[1.5,6],"strokeWidth":1.5,"clip":true},"encoding":{"x":{"field":"freq","type":"quantitative","scale":{"domain":[0,67],"nice":false},"axis":{"orient":"top","values":[0,20,40,60],"labels":false,"title":null}},"y":{"field":"intensity","type":"quantitative","scale":{"domain":[0,8],"nice":false},"axis":{"orient":"right","values":[0,2,4,6,8],"labels":false,"title":null}}}},
 {"transform":[{"filter":{"field":"part","equal":"mode"}}],"mark":{"type":"rule","strokeDash":[15,9]},"encoding":{"x":{"field":"freq","type":"quantitative","scale":{"domain":[0,67],"nice":false},"axis":null}}}]},
{"width":250,"height":197,"title":"T=39 K, Q//<111>","transform":[{"filter":{"field":"panel","equal":"T39-111"}}],"resolve":{"axis":{"x":"independent","y":"independent"}},"layer":[
 {"transform":[{"filter":{"field":"part","equal":"solid"}}],"mark":{"type":"line","interpolate":"monotone","clip":true},"encoding":{"x":{"field":"freq","type":"quantitative","scale":{"domain":[0,67],"nice":false},"axis":{"values":[0,20,40,60],"title":"Fréquence (GHz)"}},"y":{"field":"intensity","type":"quantitative","scale":{"domain":[0,10],"nice":false},"axis":{"values":[0,2,4,6,8,10],"title":"Intensitéᵢₛ (a.u)"}}}},
 {"transform":[{"filter":{"field":"part","equal":"dot"}}],"mark":{"type":"line","strokeDash":[1.5,6],"strokeWidth":1.5,"clip":true},"encoding":{"x":{"field":"freq","type":"quantitative","scale":{"domain":[0,67],"nice":false},"axis":{"orient":"top","values":[0,20,40,60],"labels":false,"title":null}},"y":{"field":"intensity","type":"quantitative","scale":{"domain":[0,10],"nice":false},"axis":{"orient":"right","values":[0,2,4,6,8,10],"labels":false,"title":null}}}},
 {"transform":[{"filter":{"field":"part","equal":"mode"}}],"mark":{"type":"rule","strokeDash":[15,9]},"encoding":{"x":{"field":"freq","type":"quantitative","scale":{"domain":[0,67],"nice":false},"axis":null}}}]},
{"width":250,"height":197,"title":"T=39 K, Q//<001>","transform":[{"filter":{"field":"panel","equal":"T39-001"}}],"resolve":{"axis":{"x":"independent","y":"independent"}},"layer":[
 {"transform":[{"filter":{"field":"part","equal":"solid"}}],"mark":{"type":"line","interpolate":"monotone","clip":true},"encoding":{"x":{"field":"freq","type":"quantitative","scale":{"domain":[0,67],"nice":false},"axis":{"values":[0,20,40,60],"title":"Fréquence (GHz)"}},"y":{"field":"intensity","type":"quantitative","scale":{"domain":[0,10],"nice":false},"axis":{"values":[0,2,4,6,8,10],"title":"Intensitéᵢₛ (a.u)"}}}},
 {"transform":[{"filter":{"field":"part","equal":"dot"}}],"mark":{"type":"line","strokeDash":[1.5,6],"strokeWidth":1.5,"clip":true},"encoding":{"x":{"field":"freq","type":"quantitative","scale":{"domain":[0,67],"nice":false},"axis":{"orient":"top","values":[0,20,40,60],"labels":false,"title":null}},"y":{"field":"intensity","type":"quantitative","scale":{"domain":[0,10],"nice":false},"axis":{"orient":"right","values":[0,2,4,6,8,10],"labels":false,"title":null}}}},
 {"transform":[{"filter":{"field":"part","equal":"mode"}}],"mark":{"type":"rule","strokeDash":[15,9]},"encoding":{"x":{"field":"freq","type":"quantitative","scale":{"domain":[0,67],"nice":false},"axis":null}}}]},
{"width":250,"height":197,"title":"T=60 K, Q//<110>","transform":[{"filter":{"field":"panel","equal":"T60-110"}}],"resolve":{"axis":{"x":"independent","y":"independent"}},"layer":[
 {"transform":[{"filter":{"field":"part","equal":"solid"}}],"mark":{"type":"line","interpolate":"monotone","clip":true},"encoding":{"x":{"field":"freq","type":"quantitative","scale":{"domain":[0,67],"nice":false},"axis":{"values":[0,20,40,60],"title":"Fréquence (GHz)"}},"y":{"field":"intensity","type":"quantitative","scale":{"domain":[0,15],"nice":false},"axis":{"values":[0,5,10,15],"title":"Intensitéᵢₛ (a.u)"}}}},
 {"transform":[{"filter":{"field":"part","equal":"dot"}}],"mark":{"type":"line","strokeDash":[1.5,6],"strokeWidth":1.5,"clip":true},"encoding":{"x":{"field":"freq","type":"quantitative","scale":{"domain":[0,67],"nice":false},"axis":{"orient":"top","values":[0,20,40,60],"labels":false,"title":null}},"y":{"field":"intensity","type":"quantitative","scale":{"domain":[0,15],"nice":false},"axis":{"orient":"right","values":[0,5,10,15],"labels":false,"title":null}}}},
 {"transform":[{"filter":{"field":"part","equal":"mode"}}],"mark":{"type":"rule","strokeDash":[15,9]},"encoding":{"x":{"field":"freq","type":"quantitative","scale":{"domain":[0,67],"nice":false},"axis":null}}}]},
{"width":250,"height":197,"title":"T=60 K, Q//<111>","transform":[{"filter":{"field":"panel","equal":"T60-111"}}],"resolve":{"axis":{"x":"independent","y":"independent"}},"layer":[
 {"transform":[{"filter":{"field":"part","equal":"solid"}}],"mark":{"type":"line","interpolate":"monotone","clip":true},"encoding":{"x":{"field":"freq","type":"quantitative","scale":{"domain":[0,67],"nice":false},"axis":{"values":[0,20,40,60],"title":"Fréquence (GHz)"}},"y":{"field":"intensity","type":"quantitative","scale":{"domain":[0,20],"nice":false},"axis":{"values":[0,5,10,15,20],"title":"Intensitéᵢₛ (a.u)"}}}},
 {"transform":[{"filter":{"field":"part","equal":"dot"}}],"mark":{"type":"line","strokeDash":[1.5,6],"strokeWidth":1.5,"clip":true},"encoding":{"x":{"field":"freq","type":"quantitative","scale":{"domain":[0,67],"nice":false},"axis":{"orient":"top","values":[0,20,40,60],"labels":false,"title":null}},"y":{"field":"intensity","type":"quantitative","scale":{"domain":[0,20],"nice":false},"axis":{"orient":"right","values":[0,5,10,15,20],"labels":false,"title":null}}}},
 {"transform":[{"filter":{"field":"part","equal":"mode"}}],"mark":{"type":"rule","strokeDash":[15,9]},"encoding":{"x":{"field":"freq","type":"quantitative","scale":{"domain":[0,67],"nice":false},"axis":null}}}]},
{"width":250,"height":197,"title":"T=60 K, Q//<001>","transform":[{"filter":{"field":"panel","equal":"T60-001"}}],"resolve":{"axis":{"x":"independent","y":"independent"}},"layer":[
 {"transform":[{"filter":{"field":"part","equal":"solid"}}],"mark":{"type":"line","interpolate":"monotone","clip":true},"encoding":{"x":{"field":"freq","type":"quantitative","scale":{"domain":[0,67],"nice":false},"axis":{"values":[0,20,40,60],"title":"Fréquence (GHz)"}},"y":{"field":"intensity","type":"quantitative","scale":{"domain":[0,20],"nice":false},"axis":{"values":[0,5,10,15,20],"title":"Intensitéᵢₛ (a.u)"}}}},
 {"transform":[{"filter":{"field":"part","equal":"dot"}}],"mark":{"type":"line","strokeDash":[1.5,6],"strokeWidth":1.5,"clip":true},"encoding":{"x":{"field":"freq","type":"quantitative","scale":{"domain":[0,67],"nice":false},"axis":{"orient":"top","values":[0,20,40,60],"labels":false,"title":null}},"y":{"field":"intensity","type":"quantitative","scale":{"domain":[0,20],"nice":false},"axis":{"orient":"right","values":[0,5,10,15,20],"labels":false,"title":null}}}},
 {"transform":[{"filter":{"field":"part","equal":"mode"}}],"mark":{"type":"rule","strokeDash":[15,9]},"encoding":{"x":{"field":"freq","type":"quantitative","scale":{"domain":[0,67],"nice":false},"axis":null}}}]},
{"width":250,"height":197,"title":"T=80 K, Q//<110>","transform":[{"filter":{"field":"panel","equal":"T80-110"}}],"resolve":{"axis":{"x":"independent","y":"independent"}},"layer":[
 {"transform":[{"filter":{"field":"part","equal":"solid"}}],"mark":{"type":"line","interpolate":"monotone","clip":true},"encoding":{"x":{"field":"freq","type":"quantitative","scale":{"domain":[0,67],"nice":false},"axis":{"values":[0,20,40,60],"title":"Fréquence (GHz)"}},"y":{"field":"intensity","type":"quantitative","scale":{"domain":[0,25],"nice":false},"axis":{"values":[0,5,10,15,20,25],"title":"Intensitéᵢₛ (a.u)"}}}},
 {"transform":[{"filter":{"field":"part","equal":"dot"}}],"mark":{"type":"line","strokeDash":[1.5,6],"strokeWidth":1.5,"clip":true},"encoding":{"x":{"field":"freq","type":"quantitative","scale":{"domain":[0,67],"nice":false},"axis":{"orient":"top","values":[0,20,40,60],"labels":false,"title":null}},"y":{"field":"intensity","type":"quantitative","scale":{"domain":[0,25],"nice":false},"axis":{"orient":"right","values":[0,5,10,15,20,25],"labels":false,"title":null}}}},
 {"transform":[{"filter":{"field":"part","equal":"mode"}}],"mark":{"type":"rule","strokeDash":[15,9]},"encoding":{"x":{"field":"freq","type":"quantitative","scale":{"domain":[0,67],"nice":false},"axis":null}}}]},
{"width":250,"height":197,"title":"T=80 K, Q//<111>","transform":[{"filter":{"field":"panel","equal":"T80-111"}}],"resolve":{"axis":{"x":"independent","y":"independent"}},"layer":[
 {"transform":[{"filter":{"field":"part","equal":"solid"}}],"mark":{"type":"line","interpolate":"monotone","clip":true},"encoding":{"x":{"field":"freq","type":"quantitative","scale":{"domain":[0,67],"nice":false},"axis":{"values":[0,20,40,60],"title":"Fréquence (GHz)"}},"y":{"field":"intensity","type":"quantitative","scale":{"domain":[0,25],"nice":false},"axis":{"values":[0,5,10,15,20,25],"title":"Intensitéᵢₛ (a.u)"}}}},
 {"transform":[{"filter":{"field":"part","equal":"dot"}}],"mark":{"type":"line","strokeDash":[1.5,6],"strokeWidth":1.5,"clip":true},"encoding":{"x":{"field":"freq","type":"quantitative","scale":{"domain":[0,67],"nice":false},"axis":{"orient":"top","values":[0,20,40,60],"labels":false,"title":null}},"y":{"field":"intensity","type":"quantitative","scale":{"domain":[0,25],"nice":false},"axis":{"orient":"right","values":[0,5,10,15,20,25],"labels":false,"title":null}}}},
 {"transform":[{"filter":{"field":"part","equal":"mode"}}],"mark":{"type":"rule","strokeDash":[15,9]},"encoding":{"x":{"field":"freq","type":"quantitative","scale":{"domain":[0,67],"nice":false},"axis":null}}}]},
{"width":250,"height":197,"title":"T=80 K, Q//<001>","transform":[{"filter":{"field":"panel","equal":"T80-001"}}],"resolve":{"axis":{"x":"independent","y":"independent"}},"layer":[
 {"transform":[{"filter":{"field":"part","equal":"solid"}}],"mark":{"type":"line","interpolate":"monotone","clip":true},"encoding":{"x":{"field":"freq","type":"quantitative","scale":{"domain":[0,67],"nice":false},"axis":{"values":[0,20,40,60],"title":"Fréquence (GHz)"}},"y":{"field":"intensity","type":"quantitative","scale":{"domain":[0,25],"nice":false},"axis":{"values":[0,5,10,15,20,25],"title":"Intensitéᵢₛ (a.u)"}}}},
 {"transform":[{"filter":{"field":"part","equal":"dot"}}],"mark":{"type":"line","strokeDash":[1.5,6],"strokeWidth":1.5,"clip":true},"encoding":{"x":{"field":"freq","type":"quantitative","scale":{"domain":[0,67],"nice":false},"axis":{"orient":"top","values":[0,20,40,60],"labels":false,"title":null}},"y":{"field":"intensity","type":"quantitative","scale":{"domain":[0,25],"nice":false},"axis":{"orient":"right","values":[0,5,10,15,20,25],"labels":false,"title":null}}}},
 {"transform":[{"filter":{"field":"part","equal":"mode"}}],"mark":{"type":"rule","strokeDash":[15,9]},"encoding":{"x":{"field":"freq","type":"quantitative","scale":{"domain":[0,67],"nice":false},"axis":null}}}]}
],
"config": {
 "font": "Liberation Sans",
 "view": {"stroke": "black", "strokeWidth": 1, "fill": "white"},
 "line": {"color": "black", "strokeWidth": 1.2},
 "rule": {"color": "black", "strokeWidth": 1.2},
 "axis": {"domain": false, "grid": false, "ticks": true, "tickSize": -4, "tickColor": "black", "tickWidth": 1, "labelFont": "Liberation Sans", "labelFontSize": 16, "labelColor": "black", "labelPadding": 10, "labelFlush": false, "labelOverlap": false, "format": "~f", "titleFont": "Liberation Sans", "titleFontSize": 21, "titleFontWeight": "normal", "titleColor": "black"},
 "axisX": {"labelPadding": 9, "titlePadding": 12},
 "axisY": {"titlePadding": 8, "titleFontSize": 22},
 "title": {"font": "Liberation Sans", "fontSize": 26.5, "fontWeight": "normal", "color": "black", "anchor": "end", "frame": "group", "baseline": "alphabetic", "offset": 6}
}
}
